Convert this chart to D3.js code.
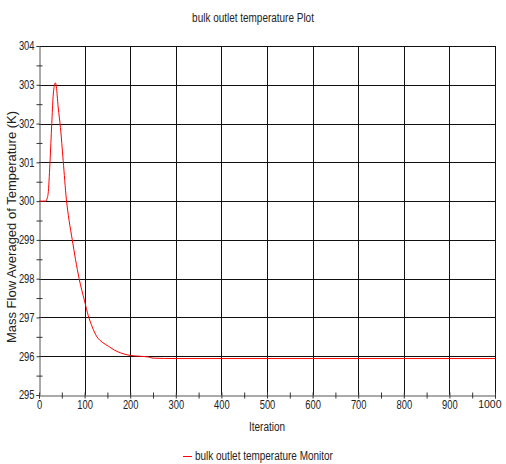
<!DOCTYPE html>
<html>
<head>
<meta charset="utf-8">
<script src="https://cdn.jsdelivr.net/npm/d3@7"></script>
<style>
  body { margin: 0; background: #fff; }
  text { font-family: "Liberation Sans", Arial, sans-serif; fill: #222; }
</style>
</head>
<body>
<div id="chart"></div>
<script>
const iterations = [0, 10, 15, 18, 20, 24, 28, 31, 34, 36, 38, 42, 47, 53, 60, 66, 73, 80, 88, 100,
    108, 117, 126, 140, 152, 165, 178, 200, 220, 240, 250, 300, 400, 500, 600, 700, 800, 900, 1000];
const temps = [300, 300, 300.0, 300.08, 300.19, 300.97, 302.0, 302.7, 303.0, 303.05, 302.95, 302.43, 301.9, 301.05, 300.05, 299.5, 299.0, 298.5, 298.0, 297.42,
    297.05, 296.75, 296.52, 296.35, 296.26, 296.16, 296.09, 296.02, 296.0, 295.98, 295.95, 295.94, 295.94, 295.94, 295.94, 295.94, 295.94, 295.94, 295.94];
const xTicks = [0, 100, 200, 300, 400, 500, 600, 700, 800, 900, 1000];
const yTicks = [295, 296, 297, 298, 299, 300, 301, 302, 303, 304];
const seriesName = "bulk outlet temperature Monitor";

const width = 506, height = 464;
const margin = { top: 46, right: 11, bottom: 69, left: 39 };

const svg = d3.select("#chart").append("svg")
    .attr("width", width)
    .attr("height", height);

const x = d3.scaleLinear().domain([0, 1000]).range([margin.left, width - margin.right]);
const y = d3.scaleLinear().domain([295, 304]).range([height - margin.bottom, margin.top]);

// squeeze text horizontally, the original uses a narrow font
function narrow(sel, k) {
    sel.each(function () {
        const w = this.getComputedTextLength();
        if (w > 0) d3.select(this).attr("textLength", w * k).attr("lengthAdjust", "spacingAndGlyphs");
    });
}

// grid
svg.append("g")
    .selectAll("line")
    .data(xTicks.slice(1))
    .enter().append("line")
    .attr("x1", d => Math.round(x(d)) + 0.5)
    .attr("x2", d => Math.round(x(d)) + 0.5)
    .attr("y1", y(304))
    .attr("y2", y(295))
    .attr("stroke", "#111");

svg.append("g")
    .selectAll("line")
    .data(yTicks.slice(1))
    .enter().append("line")
    .attr("x1", x(0))
    .attr("x2", x(1000))
    .attr("y1", d => Math.round(y(d)) + 0.5)
    .attr("y2", d => Math.round(y(d)) + 0.5)
    .attr("stroke", "#111");

// axes
const xAxis = d3.axisBottom(x).tickValues(d3.range(0, 1001, 50)).tickSize(3)
    .tickFormat(d => d % 100 === 0 ? d : "");
const gx = svg.append("g")
    .attr("transform", `translate(0,${Math.round(y(295)) + 0.5})`)
    .call(xAxis);
gx.select(".domain").attr("stroke", "#555");
gx.selectAll(".tick line").attr("stroke", "#333").attr("y1", -3);
gx.selectAll(".tick text").attr("font-size", 12).attr("dy", "0.6em");
// last label sits near the right edge
gx.selectAll(".tick text").filter(d => d === 1000)
    .attr("text-anchor", "end").attr("x", width - 5 - x(1000));

const yAxis = d3.axisLeft(y).tickValues(d3.range(295, 304.01, 0.5)).tickSize(3)
    .tickFormat(d => d % 1 === 0 ? d : "");
const gy = svg.append("g")
    .attr("transform", `translate(${Math.round(x(0)) + 0.5},0)`)
    .call(yAxis);
gy.select(".domain").attr("stroke", "#555");
gy.selectAll(".tick line").attr("stroke", "#333").attr("x2", d => d % 1 === 0 ? 0 : 3).attr("x1", -3);
gy.selectAll(".tick text").attr("font-size", 12).attr("x", -5);

// series
const pts = iterations.map((it, i) => ({ it, t: temps[i] }));
svg.append("path")
    .datum(pts)
    .attr("fill", "none")
    .attr("stroke", "#ff0000")
    .attr("stroke-width", 1)
    .attr("d", d3.line().curve(d3.curveMonotoneX).x(d => x(d.it)).y(d => y(d.t)));

// titles
const title = svg.append("text")
    .attr("x", width / 2)
    .attr("y", 22)
    .attr("text-anchor", "middle")
    .attr("font-size", 12)
    .text("bulk outlet temperature Plot");

const xLabel = svg.append("text")
    .attr("x", (x(0) + x(1000)) / 2)
    .attr("y", 431)
    .attr("text-anchor", "middle")
    .attr("font-size", 12)
    .text("Iteration");

svg.append("text")
    .attr("transform", `translate(16,227) rotate(-90)`)
    .attr("text-anchor", "middle")
    .attr("font-size", 13)
    .text("Mass Flow Averaged of Temperature (K)");

// legend
svg.append("line")
    .attr("x1", 183).attr("x2", 192)
    .attr("y1", 456.5).attr("y2", 456.5)
    .attr("stroke", "#ff0000");
const legText = svg.append("text")
    .attr("x", 195)
    .attr("y", 460)
    .attr("font-size", 12)
    .text(seriesName);

narrow(title, 0.83);
narrow(xLabel, 0.83);
narrow(legText, 0.83);
narrow(gx.selectAll(".tick text").filter(d => d !== 1000), 0.78);
narrow(gy.selectAll(".tick text"), 0.78);
gx.selectAll(".tick text").filter(d => d === 1000).attr("font-size", 10.5);
</script>
</body>
</html>
